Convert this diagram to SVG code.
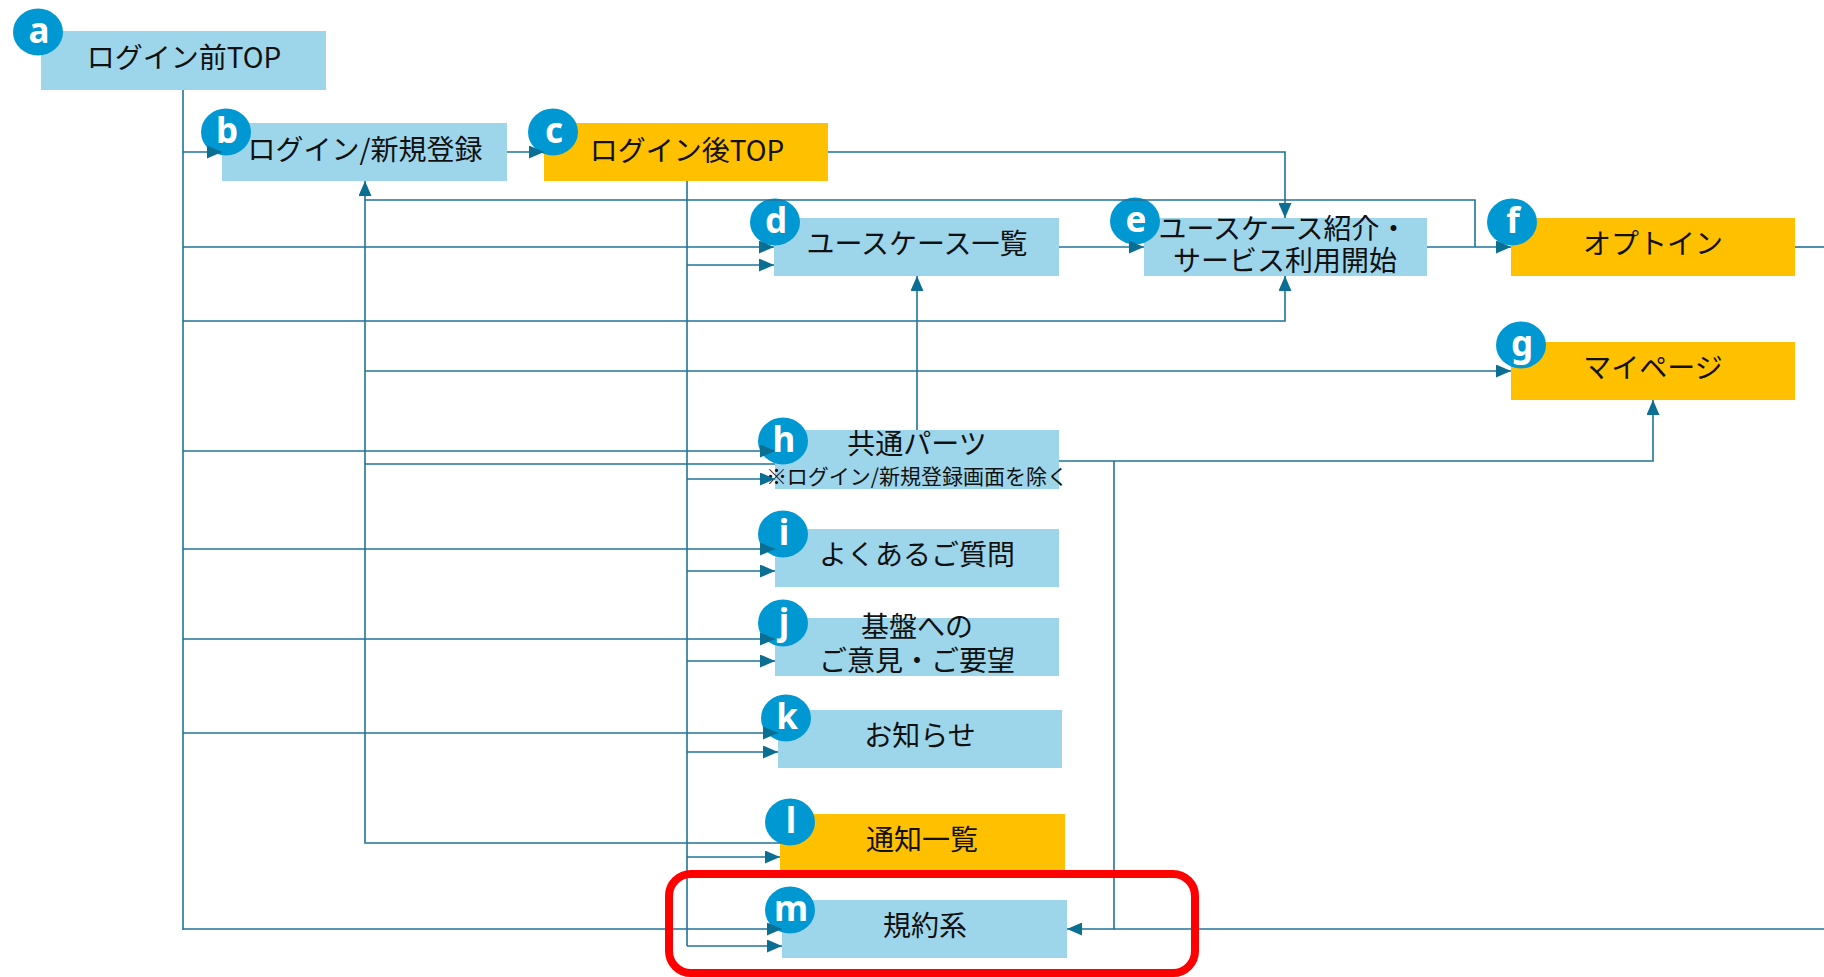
<svg xmlns="http://www.w3.org/2000/svg" width="1824" height="977" viewBox="0 0 1824 977">
<defs>
<style>
.bx{fill:#9DD6EB}
.or{fill:#FFC000}
.bd{fill:#0098D2}
.lb{font-family:"Noto Sans CJK JP","Noto Sans",sans-serif;font-size:28px;fill:#111;text-anchor:middle}
.sm{font-size:21px}
.bl{font-family:"Noto Sans","Open Sans",sans-serif;font-weight:bold;font-size:35px;fill:#fff;text-anchor:middle}
.ln{fill:none;stroke:#22739A;stroke-width:1.6}
.ar{marker-end:url(#ah)}
</style>
<marker id="ah" viewBox="0 0 15 13" refX="15" refY="6.5" markerWidth="15" markerHeight="13" markerUnits="userSpaceOnUse" orient="auto">
<path d="M0,0 L15,6.5 L0,13 z" fill="#0B6E93"/>
</marker>
</defs>
<rect width="1824" height="977" fill="#fff"/>
<g id="nodes">
<g id="node-a"><rect class="bx" x="41" y="31" width="285" height="59"/><text class="lb" x="184" y="68">ログイン前TOP</text><ellipse class="bd" cx="38" cy="32" rx="25" ry="23.5"/><text class="bl" x="39" y="43">a</text></g>
<g id="node-b"><rect class="bx" x="222" y="123" width="285" height="58"/><text class="lb" x="365" y="160">ログイン/新規登録</text><ellipse class="bd" cx="226" cy="132" rx="25" ry="23.5"/><text class="bl" x="227" y="143">b</text></g>
<g id="node-c"><rect class="or" x="544" y="123" width="284" height="58"/><text class="lb" x="687" y="161">ログイン後TOP</text><ellipse class="bd" cx="553" cy="132" rx="25" ry="23.5"/><text class="bl" x="554" y="143">c</text></g>
<g id="node-d"><rect class="bx" x="774" y="218" width="285" height="58"/><text class="lb" x="917" y="254">ユースケース一覧</text><ellipse class="bd" cx="775" cy="222" rx="25" ry="23.5"/><text class="bl" x="776" y="233">d</text></g>
<g id="node-e"><rect class="bx" x="1144" y="218" width="283" height="58"/><text class="lb"><tspan x="1283" y="239">ユースケース紹介・</tspan><tspan x="1285" y="271">サービス利用開始</tspan></text><ellipse class="bd" cx="1135" cy="221" rx="25" ry="23.5"/><text class="bl" x="1136" y="232">e</text></g>
<g id="node-f"><rect class="or" x="1511" y="218" width="284" height="58"/><text class="lb" x="1653" y="254">オプトイン</text><ellipse class="bd" cx="1512" cy="222" rx="25" ry="23.5"/><text class="bl" x="1513" y="233">f</text></g>
<g id="node-g"><rect class="or" x="1511" y="342" width="284" height="58"/><text class="lb" x="1653" y="378">マイページ</text><ellipse class="bd" cx="1521" cy="345" rx="25" ry="23.5"/><text class="bl" x="1522" y="356">g</text></g>
<g id="node-h"><rect class="bx" x="775" y="430" width="284" height="59"/><text class="lb"><tspan x="917" y="454">共通パーツ</tspan><tspan class="sm" x="917" y="484">※ログイン/新規登録画面を除く</tspan></text><ellipse class="bd" cx="783" cy="441" rx="25" ry="23.5"/><text class="bl" x="784" y="452">h</text></g>
<g id="node-i"><rect class="bx" x="775" y="529" width="284" height="58"/><text class="lb" x="917" y="565">よくあるご質問</text><ellipse class="bd" cx="783" cy="534" rx="25" ry="23.5"/><text class="bl" x="784" y="545">i</text></g>
<g id="node-j"><rect class="bx" x="775" y="618" width="284" height="58"/><text class="lb"><tspan x="917" y="637">基盤への</tspan><tspan x="917" y="671">ご意見・ご要望</tspan></text><ellipse class="bd" cx="783" cy="623" rx="25" ry="23.5"/><text class="bl" x="784" y="634">j</text></g>
<g id="node-k"><rect class="bx" x="778" y="710" width="284" height="58"/><text class="lb" x="920" y="746">お知らせ</text><ellipse class="bd" cx="786" cy="718" rx="25" ry="23.5"/><text class="bl" x="787" y="729">k</text></g>
<g id="node-l"><rect class="or" x="780" y="814" width="285" height="56"/><text class="lb" x="922" y="850">通知一覧</text><ellipse class="bd" cx="790" cy="822" rx="25" ry="23.5"/><text class="bl" x="791" y="833">l</text></g>
<g id="node-m"><rect class="bx" x="782" y="900" width="285" height="58"/><text class="lb" x="925" y="936">規約系</text><ellipse class="bd" cx="790" cy="910" rx="25" ry="23.5"/><text class="bl" x="791" y="921">m</text></g>
</g>
<g id="connectors">
<path class="ln" d="M183,90 V930"/>
<path class="ln ar" d="M183,152 H222"/>
<path class="ln ar" d="M183,247 H774"/>
<path class="ln ar" d="M183,321 H1285 V276"/>
<path class="ln ar" d="M183,451 H775"/>
<path class="ln ar" d="M183,549 H775"/>
<path class="ln ar" d="M183,639 H775"/>
<path class="ln ar" d="M183,733 H778"/>
<path class="ln ar" d="M183,929 H782"/>
<path class="ln ar" d="M780,843 H365 V181"/>
<path class="ln" d="M1475,247 V200 H365"/>
<path class="ln ar" d="M365,371 H1511"/>
<path class="ln" d="M365,464 H775"/>
<path class="ln" d="M687,181 V946"/>
<path class="ln ar" d="M687,265 H774"/>
<path class="ln ar" d="M687,479 H775"/>
<path class="ln ar" d="M687,571 H775"/>
<path class="ln ar" d="M687,661 H775"/>
<path class="ln ar" d="M687,752 H778"/>
<path class="ln ar" d="M687,857 H780"/>
<path class="ln ar" d="M687,946 H782"/>
<path class="ln ar" d="M507,152 H544"/>
<path class="ln ar" d="M828,152 H1285 V218"/>
<path class="ln ar" d="M1059,247 H1144"/>
<path class="ln ar" d="M1427,247 H1511"/>
<path class="ln" d="M1795,247 H1824"/>
<path class="ln ar" d="M917,430 V276"/>
<path class="ln ar" d="M1059,461 H1653 V400"/>
<path class="ln ar" d="M1114,461 V929 H1067"/>
<path class="ln" d="M1824,929 H1114"/>
</g>
<rect id="highlight" x="669" y="874" width="526" height="99" rx="22" fill="none" stroke="#FF0000" stroke-width="8"/>
</svg>
